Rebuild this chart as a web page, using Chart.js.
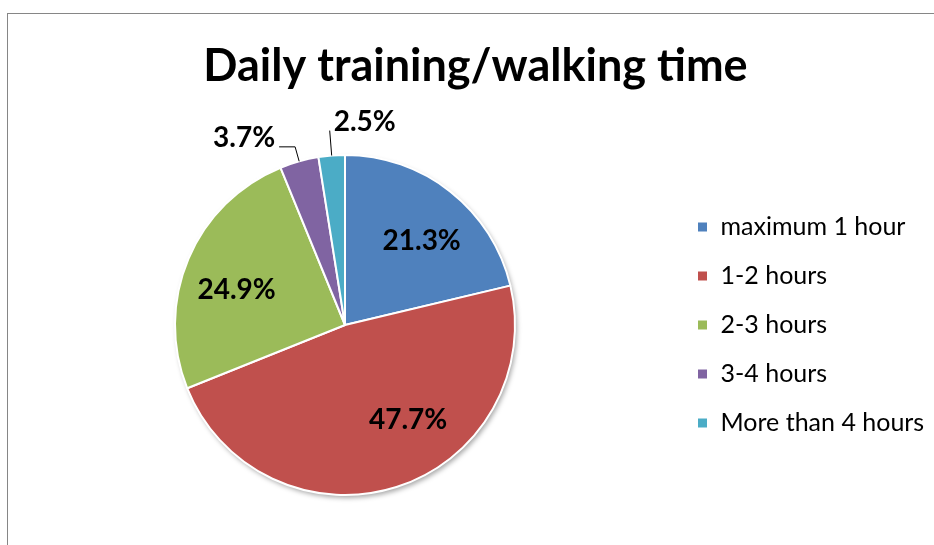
<!DOCTYPE html>
<html>
<head>
<meta charset="utf-8">
<script src="https://cdn.jsdelivr.net/npm/chart.js@4.4.1/dist/chart.umd.min.js"></script>
<style>
  html, body { margin: 0; padding: 0; background: #fff; }
  #wrap { position: relative; width: 934px; height: 545px; overflow: hidden; }
  #frame { position: absolute; left: 7px; top: 13px; right: -2px; bottom: -2px;
           border-top: 1px solid #868686; border-left: 1px solid #868686; }
  canvas { position: absolute; left: 0; top: 0; }
</style>
</head>
<body>
<div id="wrap">
  <div id="frame"></div>
  <canvas id="pieCanvas" width="934" height="545"></canvas>
</div>
<script>
// data
var labels = ['maximum 1 hour', '1-2 hours', '2-3 hours', '3-4 hours', 'More than 4 hours'];
var shares = [21.3, 47.7, 24.9, 3.7, 2.5];
var colors = ['#4F81BD', '#C0504D', '#9BBB59', '#8064A2', '#4BACC6'];

var fontName = "Lato, 'Open Sans', sans-serif";
var legendWidth = 261;
// small turn (degrees) of the inside labels, like excel's best fit
var labelTurn = [4, -16, -5, 0, 0];

// keep the legend column a fixed width so the pie sits where it should
var legendSize = {
  id: 'legendSize',
  afterInit: function(chart) {
    var lg = chart.legend;
    if (!lg) return;
    var origFit = lg.fit;
    lg.fit = function() {
      origFit.call(this);
      if (this.options.display) this.width = legendWidth;
    };
  }
};

// soft shadow under the pie, like the office chart
var pieShadow = {
  id: 'pieShadow',
  beforeDatasetsDraw: function(chart) {
    var arc = chart.getDatasetMeta(0).data[0];
    if (!arc) return;
    var ctx = chart.ctx;
    ctx.save();
    ctx.shadowColor = 'rgba(0,0,0,0.35)';
    ctx.shadowBlur = 5;
    ctx.shadowOffsetX = 2;
    ctx.shadowOffsetY = 3;
    ctx.fillStyle = '#ffffff';
    ctx.beginPath();
    ctx.arc(arc.x, arc.y, arc.outerRadius, 0, Math.PI * 2);
    ctx.fill();
    ctx.restore();
  }
};

// percentage labels, small slices get a leader line
var sliceLabels = {
  id: 'sliceLabels',
  afterDatasetsDraw: function(chart) {
    var ctx = chart.ctx;
    var meta = chart.getDatasetMeta(0);
    ctx.save();
    ctx.font = 'bold 28px ' + fontName;
    ctx.fillStyle = '#000';
    meta.data.forEach(function(arc, i) {
      var mid = (arc.startAngle + arc.endAngle) / 2;
      var txt = shares[i].toFixed(1) + '%';
      if (shares[i] >= 10) {
        var a = mid + labelTurn[i] * Math.PI / 180;
        var d = arc.outerRadius * 0.67;
        ctx.textAlign = 'center';
        ctx.textBaseline = 'middle';
        ctx.fillText(txt, arc.x + Math.cos(a) * d, arc.y + Math.sin(a) * d);
      } else {
        var cx = Math.cos(mid), sy = Math.sin(mid);
        var r0 = arc.outerRadius;
        var tailed = Math.abs(cx) > 0.15;
        var r1 = arc.outerRadius + (tailed ? 15 : 25);
        var ex = arc.x + cx * r1, ey = arc.y + sy * r1;
        ctx.strokeStyle = '#000';
        ctx.lineWidth = 1;
        ctx.beginPath();
        ctx.moveTo(arc.x + cx * r0, arc.y + sy * r0);
        ctx.lineTo(ex, ey);
        ctx.textBaseline = 'alphabetic';
        if (tailed) {
          var tx = ex + (cx < 0 ? -16 : 16);
          ctx.lineTo(tx, ey);
          ctx.stroke();
          ctx.textAlign = cx < 0 ? 'right' : 'left';
          ctx.fillText(txt, tx + (cx < 0 ? -4 : 4), ey);
        } else {
          ctx.stroke();
          ctx.textAlign = 'left';
          ctx.fillText(txt, ex + 4, ey);
        }
      }
    });
    ctx.restore();
  }
};

var ctxP = document.getElementById('pieCanvas').getContext('2d');
var pieChart = new Chart(ctxP, {
  type: 'pie',
  data: {
    labels: labels,
    datasets: [{
      data: shares,
      backgroundColor: colors,
      borderColor: '#ffffff',
      borderWidth: 2
    }]
  },
  options: {
    responsive: false,
    animation: false,
    layout: { padding: { left: 17, right: 0, top: 0, bottom: 49 } },
    plugins: {
      title: {
        display: true,
        text: 'Daily training/walking time',
        color: '#000',
        font: { family: fontName, size: 45, weight: 'bold' },
        padding: { top: 39, bottom: 61 }
      },
      legend: {
        position: 'right',
        fullSize: false,
        labels: {
          color: '#000',
          font: { family: fontName, size: 25 },
          boxWidth: 11,
          boxHeight: 11,
          padding: 24
        }
      },
      tooltip: { enabled: false }
    }
  },
  plugins: [legendSize, pieShadow, sliceLabels]
});
</script>
</body>
</html>
